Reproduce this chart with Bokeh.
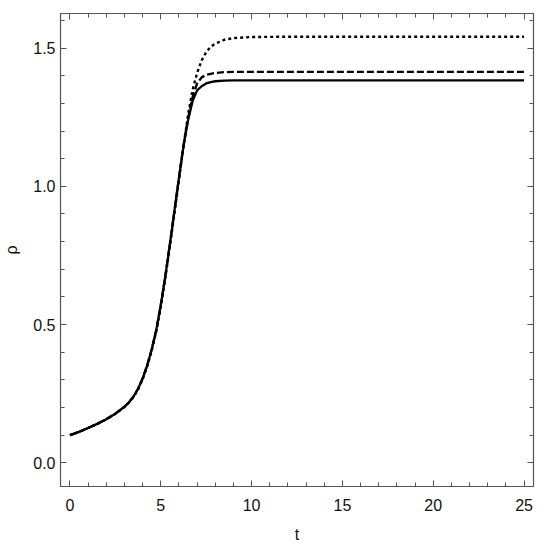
from bokeh.plotting import figure
from bokeh.models import (Range1d, SingleIntervalTicker, LinearAxis,
                          PrintfTickFormatter, CustomJSTickFormatter)
from bokeh.embed import file_html
from bokeh.resources import INLINE

t = [0, 0.5, 1, 1.5, 2, 2.5, 3, 3.25, 3.5, 3.75, 4, 4.25, 4.5, 4.75, 5, 5.25,
     5.5, 5.75, 6, 6.25, 6.5, 6.75, 7, 7.25, 7.5, 7.75, 8, 8.5, 9, 10, 12,
     15, 20, 25]
rho_solid = [0.100, 0.112, 0.126, 0.141, 0.158, 0.178, 0.203, 0.219, 0.240,
             0.268, 0.305, 0.352, 0.410, 0.480, 0.570, 0.675, 0.790, 0.910,
             1.030, 1.145, 1.238, 1.308, 1.347, 1.362, 1.372, 1.377, 1.380,
             1.382, 1.383, 1.383, 1.383, 1.383, 1.383, 1.383]
rho_dashed = [0.100, 0.112, 0.126, 0.141, 0.158, 0.178, 0.203, 0.219, 0.240,
              0.268, 0.305, 0.352, 0.410, 0.480, 0.570, 0.675, 0.790, 0.910,
              1.030, 1.148, 1.245, 1.322, 1.372, 1.394, 1.403, 1.407, 1.410,
              1.413, 1.414, 1.414, 1.414, 1.414, 1.414, 1.414]
rho_dotted = [0.100, 0.112, 0.126, 0.141, 0.157, 0.177, 0.202, 0.218, 0.238,
              0.265, 0.302, 0.348, 0.405, 0.474, 0.563, 0.668, 0.782, 0.902,
              1.022, 1.145, 1.258, 1.348, 1.410, 1.455, 1.485, 1.505, 1.516,
              1.530, 1.536, 1.540, 1.541, 1.541, 1.541, 1.541]

x_ticks_major = 5
y_ticks_major = 0.5

FRAME = "#555555"
LABEL = "#111111"
FONT = "Liberation Sans"

p = figure(width=535, height=542, output_backend="svg", toolbar_location=None,
           x_range=Range1d(-0.52, 25.52), y_range=Range1d(-0.0855, 1.625),
           frame_width=473, frame_height=473,
           min_border_left=59, min_border_top=13, min_border_right=3,
           min_border_bottom=56, x_axis_label="t", y_axis_label="ρ")
p.grid.visible = False
p.outline_line_color = FRAME
p.outline_line_width = 1.2

for ax in [p.xaxis[0], p.yaxis[0]]:
    ax.axis_line_color = FRAME
    ax.major_tick_line_color = FRAME
    ax.minor_tick_line_color = FRAME
    ax.major_tick_in = 6
    ax.major_tick_out = 0
    ax.minor_tick_in = 4
    ax.minor_tick_out = 0
    ax.major_label_text_font = FONT
    ax.major_label_text_font_size = "16px"
    ax.major_label_text_color = LABEL
    ax.axis_label_text_font = FONT
    ax.axis_label_text_font_size = "16px"
    ax.axis_label_text_font_style = "normal"
    ax.axis_label_text_color = LABEL

p.xaxis[0].ticker = SingleIntervalTicker(interval=x_ticks_major, num_minor_ticks=5)
p.yaxis[0].ticker = SingleIntervalTicker(interval=y_ticks_major, num_minor_ticks=5)
p.yaxis[0].formatter = PrintfTickFormatter(format="%.1f")
p.xaxis[0].major_label_standoff = 12
p.yaxis[0].major_label_standoff = 5
p.xaxis[0].axis_label_standoff = 12
p.yaxis[0].axis_label_standoff = 10

top = LinearAxis(ticker=SingleIntervalTicker(interval=x_ticks_major, num_minor_ticks=5))
right = LinearAxis(ticker=SingleIntervalTicker(interval=y_ticks_major, num_minor_ticks=5))
for ax in [top, right]:
    ax.axis_line_color = FRAME
    ax.major_tick_line_color = FRAME
    ax.minor_tick_line_color = FRAME
    ax.major_tick_in = 6
    ax.major_tick_out = 0
    ax.minor_tick_in = 4
    ax.minor_tick_out = 0
    ax.formatter = CustomJSTickFormatter(code="return ''")
    ax.major_label_standoff = 0
p.add_layout(top, "above")
p.add_layout(right, "right")

p.line(t, rho_dotted, line_color="black", line_width=2.4, line_dash="3 3")
p.line(t, rho_dashed, line_color="black", line_width=2.3, line_dash="7 3")
p.line(t, rho_solid, line_color="black", line_width=2.3)

open("out.html", "w").write(file_html(p, INLINE))
